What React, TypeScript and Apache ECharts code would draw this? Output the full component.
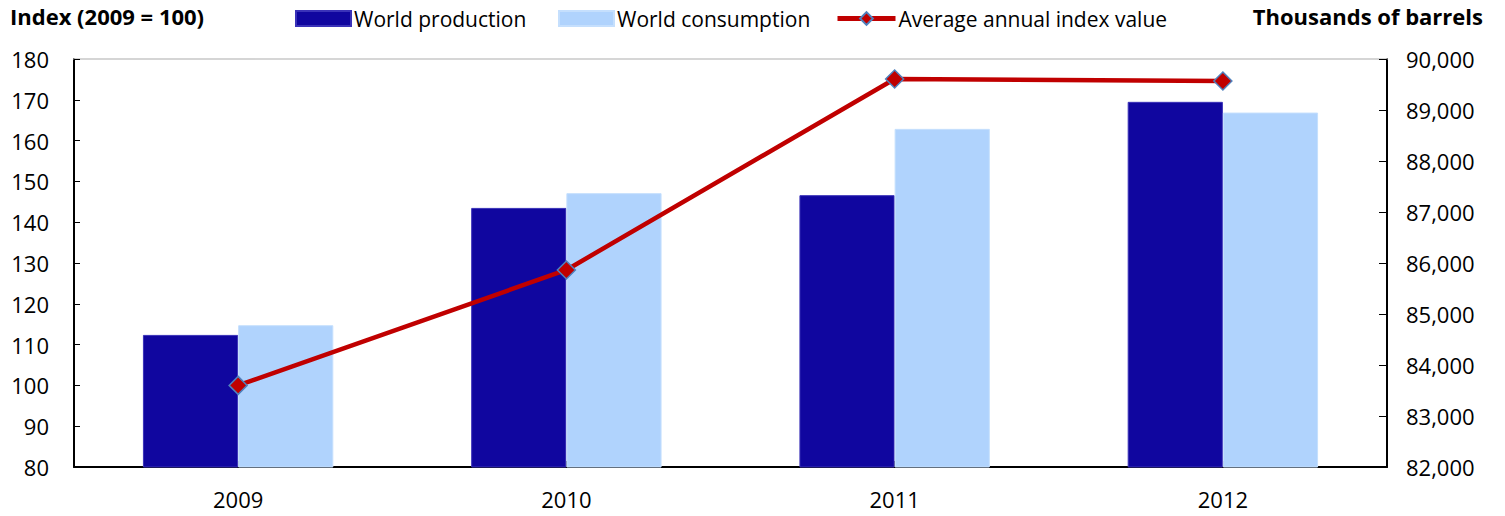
import React, { useEffect, useRef } from "react";
import * as echarts from "echarts";

const years = ["2009", "2010", "2011", "2012"];
const production = [84590, 87080, 87330, 89160];
const consumption = [84780, 87370, 88630, 88950];
const indexValues = [100, 128.3, 175.1, 174.6];

const FONT = "'Open Sans', 'Noto Sans', sans-serif";

export default function App() {
  const ref = useRef<HTMLDivElement>(null);
  useEffect(() => {
    if (!ref.current) return;
    const chart = echarts.init(ref.current, undefined, { renderer: "svg" });
    const legendText = { fontSize: 21, fontFamily: FONT, color: "#000", padding: [0, 0, 0, -2] };
    chart.setOption({
      animation: false,
      backgroundColor: "#fff",
      textStyle: { fontFamily: FONT },
      graphic: [
        {
          type: "text",
          left: 10,
          top: 5,
          style: { text: "Index (2009 = 100)", font: `bold 22px ${FONT}`, fill: "#000" },
        },
        {
          type: "text",
          right: 22,
          top: 5,
          style: { text: "Thousands of barrels", font: `bold 22px ${FONT}`, fill: "#000" },
        },
      ],
      legend: [
        {
          top: 3,
          left: 290,
          itemWidth: 55,
          itemHeight: 15,
          textStyle: legendText,
          data: [{ name: "World production", icon: "rect" }],
        },
        {
          top: 3,
          left: 553,
          itemWidth: 55,
          itemHeight: 15,
          textStyle: legendText,
          data: [{ name: "World consumption", icon: "rect" }],
        },
        {
          top: 3,
          left: 830,
          itemWidth: 58,
          itemHeight: 16,
          textStyle: legendText,
          data: [
            {
              name: "Average annual index value",
              lineStyle: { width: 5 },
            },
          ],
        },
      ],
      grid: { left: 74, right: 118, top: 59, bottom: 49, containLabel: false },
      xAxis: [
        {
          type: "category",
          data: years,
          axisLine: { lineStyle: { color: "#000", width: 2 } },
          axisTick: { show: true, inside: true, alignWithLabel: true, length: 6, lineStyle: { color: "#000" } },
          axisLabel: { fontSize: 22, color: "#000", margin: 21, fontFamily: FONT },
        },
        {
          type: "category",
          data: years,
          position: "top",
          axisLine: { lineStyle: { color: "#c8c8c8", width: 1.5 } },
          axisTick: { show: false },
          axisLabel: { show: false },
        },
      ],
      yAxis: [
        {
          type: "value",
          min: 80,
          max: 180,
          interval: 10,
          position: "left",
          axisLine: { show: true, lineStyle: { color: "#000", width: 2 } },
          axisTick: { show: true, inside: true, length: 6, lineStyle: { color: "#000" } },
          axisLabel: { fontSize: 22, color: "#000", margin: 25, fontFamily: FONT },
          splitLine: { show: false },
        },
        {
          type: "value",
          min: 82000,
          max: 90000,
          interval: 1000,
          position: "right",
          axisLine: { show: true, lineStyle: { color: "#000", width: 2 } },
          axisTick: { show: true, inside: true, length: 8, lineStyle: { color: "#000" } },
          axisLabel: {
            fontSize: 22,
            color: "#000",
            margin: 19,
            fontFamily: FONT,
            formatter: (v: number) => v.toLocaleString("en-US"),
          },
          splitLine: { show: false },
        },
      ],
      series: [
        {
          name: "World production",
          type: "bar",
          yAxisIndex: 1,
          data: production,
          barGap: "0%",
          barCategoryGap: "42%",
          itemStyle: { color: "#10069F", borderColor: "#3a32b8", borderWidth: 1 },
        },
        {
          name: "World consumption",
          type: "bar",
          yAxisIndex: 1,
          data: consumption,
          itemStyle: { color: "#B0D3FD", borderColor: "#c5dffd", borderWidth: 1 },
        },
        {
          name: "Average annual index value",
          type: "line",
          yAxisIndex: 0,
          data: indexValues,
          symbol: "diamond",
          symbolSize: 18,
          lineStyle: { color: "#C00000", width: 4.5 },
          itemStyle: { color: "#C00000", borderColor: "#4F81BD", borderWidth: 1.5 },
          z: 5,
        },
      ],
    });
    return () => chart.dispose();
  }, []);
  return (
    <div
      ref={ref}
      style={{ position: "fixed", left: 0, top: 0, width: 1505, height: 516 }}
    />
  );
}
